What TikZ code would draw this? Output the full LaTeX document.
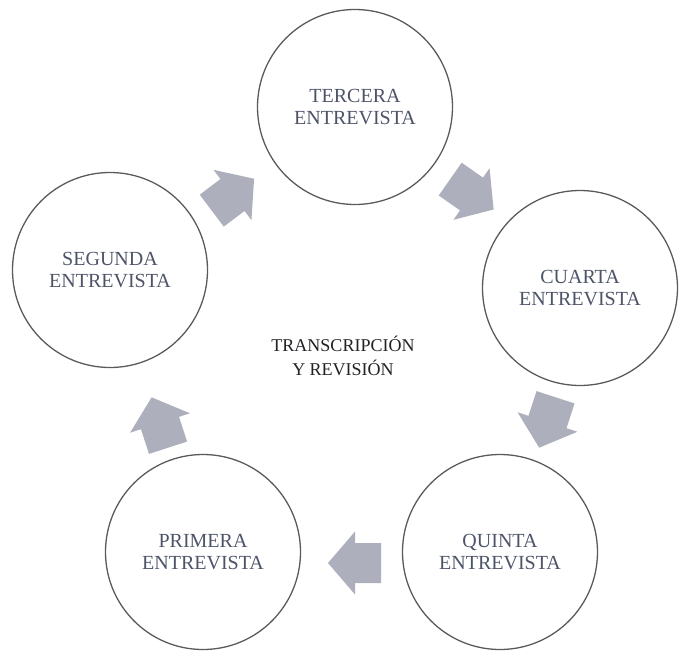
\documentclass[tikz,border=0pt]{standalone}
\usepackage{fontspec}
\setmainfont{Liberation Serif}
\definecolor{ringline}{HTML}{5A5A5E}
\definecolor{circtext}{HTML}{4E5468}
\definecolor{centertext}{HTML}{222226}
\definecolor{arrowfill}{HTML}{ADAFBC}
\tikzset{
  x=1pt,y=1pt,
  stage/.style={circle,draw=ringline,line width=1.3pt,minimum size=195pt,inner sep=0pt,
    align=center,text=circtext,font=\fontsize{20}{22.5}\selectfont},
  hub/.style={align=center,text=centertext,font=\fontsize{18}{24}\selectfont},
  cyclearrow/.pic={\fill[arrowfill] (-26,-20) -- (0,-20) -- (0,-31.5) -- (27,0) -- (0,31.5) -- (0,20) -- (-26,20) -- cycle;}
}
\begin{document}
\begin{tikzpicture}
\useasboundingbox (0,0) rectangle (683,-662);
\node[stage] (tercera) at (355,-107) {TERCERA\\ENTREVISTA};
\node[stage] (cuarta) at (580,-288) {CUARTA\\ENTREVISTA};
\node[stage] (quinta) at (500,-552) {QUINTA\\ENTREVISTA};
\node[stage] (primera) at (203,-552) {PRIMERA\\ENTREVISTA};
\node[stage] (segunda) at (110,-270) {SEGUNDA\\ENTREVISTA};
\node[hub] (hub) at (343,-356) {TRANSCRIPCIÓN\\Y REVISIÓN};
\pic[rotate=180] at (355,-563) {cyclearrow};
\pic[rotate=108] at (160,-423) {cyclearrow};
\pic[rotate=37] at (232.5,-195) {cyclearrow};
\pic[rotate=-35] at (471.5,-194) {cyclearrow};
\pic[rotate=-108] at (547.5,-422) {cyclearrow};
\end{tikzpicture}
\end{document}
